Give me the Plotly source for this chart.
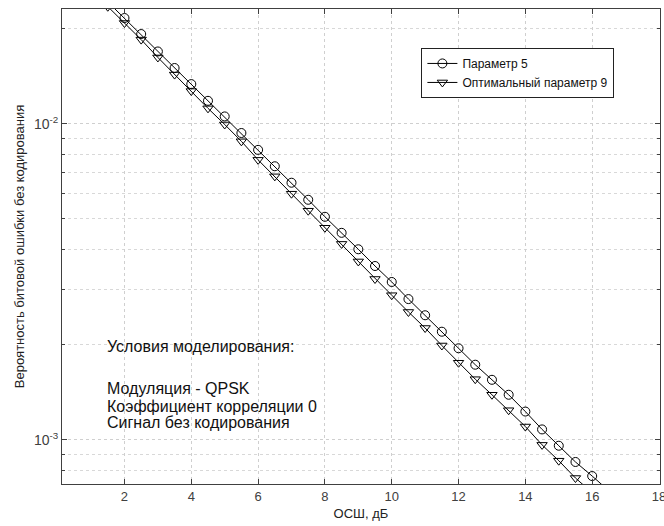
import plotly.graph_objects as go

snr = [1, 1.5, 2, 2.5, 3, 3.5, 4, 4.5, 5, 5.5, 6, 6.5, 7, 7.5, 8, 8.5, 9, 9.5,
       10, 10.5, 11, 11.5, 12, 12.5, 13, 13.5, 14, 14.5, 15, 15.5, 16, 16.5, 17]

ber_param5 = [2.74e-2, 2.43e-2, 2.160e-2, 1.922e-2, 1.693e-2, 1.501e-2, 1.335e-2,
              1.182e-2, 1.055e-2, 9.35e-3, 8.27e-3, 7.34e-3, 6.51e-3, 5.75e-3,
              5.08e-3, 4.52e-3, 4.01e-3, 3.55e-3, 3.16e-3, 2.79e-3, 2.48e-3,
              2.20e-3, 1.95e-3, 1.73e-3, 1.55e-3, 1.39e-3, 1.23e-3, 1.08e-3,
              9.59e-4, 8.52e-4, 7.69e-4, 6.9e-4, 6.2e-4]

ber_opt9 = [2.65e-2, 2.345e-2, 2.083e-2, 1.846e-2, 1.621e-2, 1.431e-2, 1.269e-2,
            1.119e-2, 9.95e-3, 8.80e-3, 7.69e-3, 6.82e-3, 6.01e-3, 5.31e-3,
            4.69e-3, 4.17e-3, 3.67e-3, 3.23e-3, 2.87e-3, 2.54e-3, 2.26e-3,
            1.99e-3, 1.755e-3, 1.557e-3, 1.39e-3, 1.242e-3, 1.103e-3, 9.65e-4,
            8.60e-4, 7.58e-4, 6.84e-4, 6.14e-4, 5.5e-4]

names = ["Параметр 5", "Оптимальный параметр 9"]
x_ticks = [2, 4, 6, 8, 10, 12, 14, 16, 18]
y_ticks = [1e-3, 1e-2]
y_ticktext = ["10<sup>-3</sup>", "10<sup>-2</sup>"]
notes = ["Условия моделирования:", "Модуляция - QPSK",
         "Коэффициент корреляции 0", "Сигнал без кодирования"]
note_y = [0.2887, 0.2001, 0.1622, 0.1285]

FONT = "Liberation Sans, Arial, sans-serif"

fig = go.Figure()
fig.add_trace(go.Scatter(x=snr, y=ber_param5, mode="lines+markers", name=names[0],
                         line=dict(color="black", width=1),
                         marker=dict(symbol="circle-open", size=9,
                                     color="black", line=dict(width=1))))
fig.add_trace(go.Scatter(x=snr, y=ber_opt9, mode="lines+markers", name=names[1],
                         line=dict(color="black", width=1),
                         marker=dict(symbol="triangle-down-open", size=9,
                                     color="black", line=dict(width=1))))

for txt, yy in zip(notes, note_y):
    fig.add_annotation(text=txt, xref="paper", yref="paper", x=0.0719, y=yy,
                       xanchor="left", yanchor="middle", showarrow=False,
                       font=dict(family=FONT, size=16, color="#111"))

axis_common = dict(showline=True, linecolor="#404040", linewidth=1, mirror="ticks",
                   ticks="inside", ticklen=5, tickcolor="#404040",
                   showgrid=True, gridcolor="#cfcfcf", griddash="dot", gridwidth=1,
                   zeroline=False)

fig.update_layout(
    width=664, height=526,
    margin=dict(l=62, r=4, t=9, b=42),
    paper_bgcolor="white", plot_bgcolor="white",
    font=dict(family=FONT, color="#222"),
    showlegend=True,
    legend=dict(x=0.601, y=0.918, xanchor="left", yanchor="top",
                bgcolor="white", bordercolor="#222", borderwidth=1,
                font=dict(family=FONT, size=12, color="#111"),
                tracegroupgap=0, itemwidth=30),
    xaxis=dict(range=[0.13, 18.03], tickvals=x_ticks,
               ticklabeloverflow="allow", automargin=False,
               tickfont=dict(family=FONT, size=13, color="#404040"),
               title=dict(text="ОСШ, дБ", font=dict(family=FONT, size=13, color="#222"),
                          standoff=6),
               **axis_common),
    yaxis=dict(type="log", range=[-3.1392, -1.637], tickvals=y_ticks,
               ticktext=y_ticktext, automargin=False,
               tickfont=dict(family=FONT, size=14, color="#404040"),
               title=dict(text="Вероятность битовой ошибки без кодирования",
                          font=dict(family=FONT, size=13, color="#222"), standoff=6),
               minor=dict(showgrid=True, gridcolor="#d8d8d8", griddash="dot",
                          ticks="inside", ticklen=3, tickcolor="#404040",
                          dtick="D1"),
               **axis_common),
)

fig.write_html("out.html")
